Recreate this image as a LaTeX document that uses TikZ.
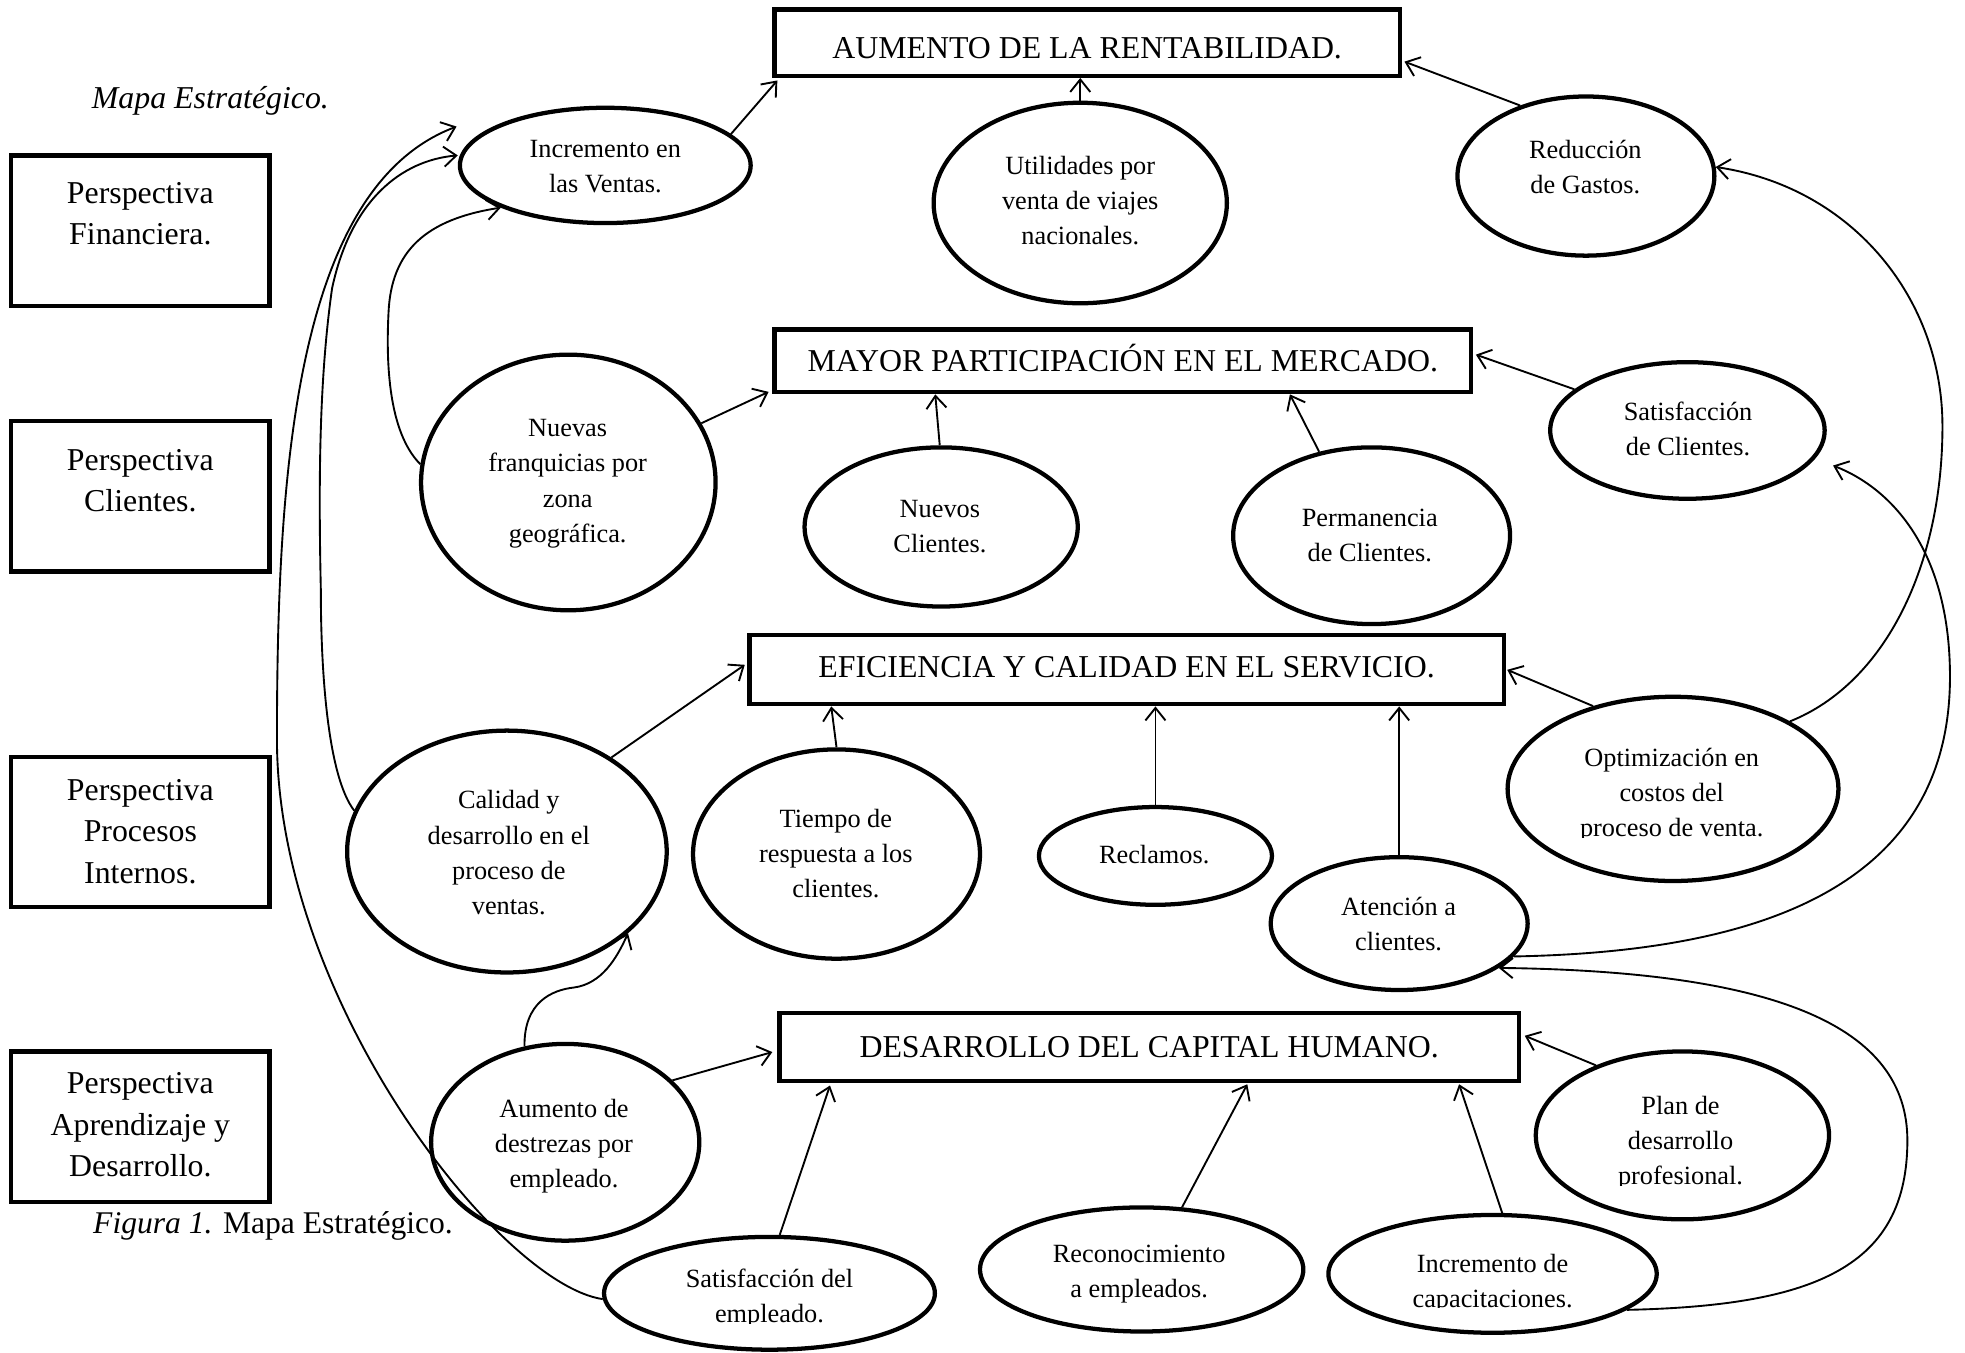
\documentclass[tikz,border=0pt]{standalone}
\usepackage{fontspec}
\setmainfont{Liberation Serif}
\usetikzlibrary{shapes.geometric,arrows.meta,calc}
\tikzset{
  pbox/.style={draw, line width=1.7pt, rectangle, inner sep=0pt, minimum width=103pt, minimum height=60pt},
  tbox/.style={draw, line width=1.7pt, rectangle, inner sep=0pt, align=center,
    font=\fontsize{12.7}{16.5}\selectfont, text height=8.4pt, text depth=0pt},
  ell/.style={draw, line width=1.7pt, ellipse, inner sep=0pt},
  etxt/.style={align=center, inner sep=0pt, font=\fontsize{10.5}{14}\selectfont, yshift=-2.2pt,
    execute at begin node=\strut, execute at end node=\strut},
  ptxt/.style={align=center, inner sep=0pt, font=\fontsize{12.7}{16.5}\selectfont, yshift=-2.2pt,
    execute at begin node=\strut, execute at end node=\strut},
  ctxt/.style={inner sep=0pt, anchor=west, yshift=-0.8pt, execute at begin node=\strut},
  conn/.style={line width=0.75pt, -{Straight Barb[length=5pt,width=8pt]}},
}
\begin{document}
\begin{tikzpicture}[x=0.5pt,y=-0.5pt]
\useasboundingbox (0,0) rectangle (1568,1079);

% captions
\node[ctxt, font=\fontsize{12.7}{14}\selectfont] (cap1) at (73,79) {\textit{Mapa Estratégico.}};
\node[ctxt, font=\fontsize{12.6}{14}\selectfont] (cap2) at (74,977) {{\itshape Figura 1.} Mapa Estratégico.};

% perspective boxes
\node[pbox] (pf) at (112,184) {};
\node[pbox] (pc) at (112,396) {};
\node[pbox] (pp) at (112,664) {};
\node[pbox] (pa) at (112,899) {};
\node[ptxt] (tpf) at (112,171) {Perspectiva\\Financiera.};
\node[ptxt] (tpc) at (112,384) {Perspectiva\\Clientes.};
\node[ptxt] (tpp) at (112,664) {Perspectiva\\Procesos\\Internos.};
\node[ptxt] (tpa) at (112,898) {Perspectiva\\Aprendizaje y\\Desarrollo.};

% title boxes
\node[tbox, minimum width=249.5pt, minimum height=26.5pt, text height=12.4pt] (A) at (867.5,34) {AUMENTO DE LA RENTABILIDAD.};
\node[tbox, minimum width=278pt, minimum height=25pt] (B) at (896,288) {MAYOR PARTICIPACIÓN EN EL MERCADO.};
\node[tbox, minimum width=301pt, minimum height=27.5pt, text depth=2pt] (C) at (899,534.5) {EFICIENCIA Y CALIDAD EN EL SERVICIO.};
\node[tbox, minimum width=295pt, minimum height=27pt] (D) at (917,835.5) {DESARROLLO DEL CAPITAL HUMANO.};

% ellipses
\node[ell, minimum width=116pt, minimum height=46pt] (IV) at (483,132) {};
\node[ell, minimum width=117pt, minimum height=80pt] (UT) at (862,162) {};
\node[ell, minimum width=102.5pt, minimum height=63.5pt] (RG) at (1265.5,140.5) {};
\node[ell, minimum width=117.5pt, minimum height=102pt] (NF) at (453.5,385) {};
\node[ell, minimum width=109pt, minimum height=63.5pt] (NC) at (751,420.5) {};
\node[ell, minimum width=110.5pt, minimum height=70.5pt] (PC) at (1094.5,427.5) {};
\node[ell, minimum width=109.5pt, minimum height=54.5pt] (SC) at (1346.5,343.5) {};
\node[ell, minimum width=127.5pt, minimum height=96.5pt] (CD) at (404.5,679.5) {};
\node[ell, minimum width=114.5pt, minimum height=83.5pt] (TR) at (667.5,681.5) {};
\node[ell, minimum width=93pt, minimum height=39pt] (RE) at (922,683) {};
\node[ell, minimum width=132pt, minimum height=73.5pt] (OC) at (1335,629.5) {};
\node[ell, minimum width=102.5pt, minimum height=53pt] (AT) at (1116.5,737) {};
\node[ell, minimum width=107pt, minimum height=78.5pt] (AD) at (451,911.5) {};
\node[ell, minimum width=132pt, minimum height=45pt] (SE) at (614,1032) {};
\node[ell, minimum width=129pt, minimum height=49.5pt] (RC) at (911,1013) {};
\node[ell, minimum width=131pt, minimum height=47pt] (IC) at (1191,1016.5) {};
\node[ell, minimum width=117pt, minimum height=67pt] (PD) at (1342.5,906) {};

% ellipse texts
\node[etxt] (tIV) at (483,132.5) {Incremento en\\las Ventas.};
\node[etxt] (tUT) at (862,160) {Utilidades por\\venta de viajes\\nacionales.};
\node[etxt] (tRG) at (1265,133) {Reducción\\de Gastos.};
\node[etxt] (tNF) at (453,383.5) {Nuevas\\franquicias por\\zona\\geográfica.};
\node[etxt] (tNC) at (750,420) {Nuevos\\Clientes.};
\node[etxt] (tPC) at (1093,427) {Permanencia\\de Clientes.};
\node[etxt] (tSC) at (1347,342) {Satisfacción\\de Clientes.};
\node[etxt] (tCD) at (406,680) {Calidad y\\desarrollo en el\\proceso de\\ventas.};
\node[etxt] (tTR) at (667,680.5) {Tiempo de\\respuesta a los\\clientes.};
\node[etxt] (tRE) at (921,679) {Reclamos.};
\node[etxt] (tAT) at (1116,737) {Atención a\\clientes.};
\node[etxt] (tAD) at (450,912) {Aumento de\\destrezas por\\empleado.};
\node[etxt] (tRC) at (909,1014) {Reconocimiento\\a empleados.};
\begin{scope}
  \clip (1150,560) rectangle (1500,668);
  \node[etxt] (tOC) at (1334,632) {Optimización en\\costos del\\proceso de venta.};
\end{scope}
\begin{scope}
  \clip (480,990) rectangle (750,1056);
  \node[etxt] (tSE) at (614,1034) {Satisfacción del\\empleado.};
\end{scope}
\begin{scope}
  \clip (1060,975) rectangle (1320,1043);
  \node[etxt] (tIC) at (1191,1022) {Incremento de\\capacitaciones.};
\end{scope}
\begin{scope}
  \clip (1230,850) rectangle (1460,946);
  \node[etxt] (tPD) at (1341,910) {Plan de\\desarrollo\\profesional.};
\end{scope}

% straight connectors
\draw[conn] (IV.14) -- ($(A.south west)+(4,2)$);
\draw[conn] (UT.north) -- (UT.north |- A.south);
\draw[conn] (RG.133) -- ($(A.south east)+(2,-13)$);
\draw[conn] (NF.24) -- ($(B.south west)+(-3,-2)$);
\draw[conn] (NC.91) -- ($(B.south west)+(130,0)$);
\draw[conn] (PC.122) -- ($(B.south west)+(413,0)$);
\draw[conn] (SC.160) -- ($(B.east)+(2,-5)$);
\draw[conn] (CD.42) -- ($(C.west)+(-2,-4)$);
\draw[conn] (TR.north) -- ($(C.south west)+(67,0)$);
\draw[conn] (RE.north) -- (RE.north |- C.south);
\draw[conn] (AT.north) -- (AT.north |- C.south);
\draw[conn] (OC.134) -- ($(C.east)+(1,0)$);
\draw[conn] (AD.30) -- ($(D.west)+(-4,4)$);
\draw[conn] (SE.80) -- ($(D.south west)+(42,2)$);
\draw[conn] (RC.57) -- ($(D.south west)+(375,1)$);
\draw[conn] (IC.81) -- ($(D.south west)+(544,1)$);
\draw[conn] (PD.141) -- ($(D.east)+(3,-9)$);

% curved connectors
\draw[conn] (NF.173) .. controls (310,345) and (308,290) .. (310,250)
  .. controls (312,200) and (340,175) .. (IV.202);
\draw[conn] (CD.165) .. controls (262,620) and (256,540) .. (256,470)
  .. controls (254,380) and (255,300) .. (265,230)
  .. controls (280,160) and (320,128) .. ($(IV.west)+(0,-8)$);
\draw[conn] (SE.182) .. controls (400,1025) and (221,800) .. (221,590)
  .. controls (221,380) and (235,150) .. ($(IV.west)+(-1,-31)$);
\draw[conn] (AD.113) .. controls (418,800) and (440,790) .. (458,788)
  .. controls (480,785) and (492,765) .. (CD.-34);
\draw[conn] (OC.30) .. controls (1505,545) and (1550,450) .. (1550,340)
  .. controls (1550,240) and (1480,150) .. (RG.4);
\draw[conn] (AT.-16) .. controls (1380,760) and (1556,720) .. (1556,540)
  .. controls (1556,440) and (1510,390) .. ($(SC.east)+(5,28)$);
\draw[conn] (IC.-15) .. controls (1450,1042) and (1522,1010) .. (1522,910)
  .. controls (1522,820) and (1420,775) .. (AT.-24);
\end{tikzpicture}
\end{document}
